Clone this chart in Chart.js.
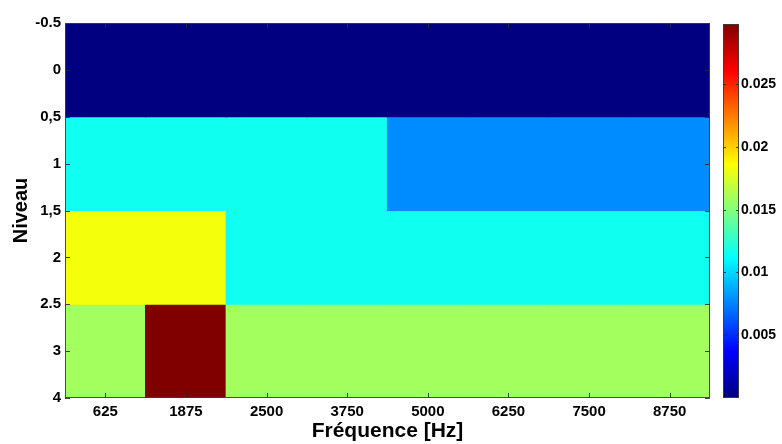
<!DOCTYPE html>
<html>
<head>
<meta charset="utf-8">
<script src="https://cdn.jsdelivr.net/npm/chart.js@4/dist/chart.umd.min.js"></script>
<style>
  html, body { margin: 0; padding: 0; background: #fff; }
  #wrap { position: relative; width: 782px; height: 444px; }
  #heat { position: absolute; left: 0; top: 0; }
  #bar { position: absolute; left: 700px; top: 0; }
</style>
</head>
<body>
<div id="wrap">
  <canvas id="heat" width="782" height="444"></canvas>
  <canvas id="bar" width="82" height="444"></canvas>
</div>
<script>
// Frequency bins (x) and level rows (y)
const frequencyLabels = ['625', '1875', '2500', '3750', '5000', '6250', '7500', '8750'];
const levels = [0, 1, 2, 3];
const levelTickLabels = ['-0.5', '0', '0,5', '1', '1,5', '2', '2.5', '3', '4'];

// Cell values, one array per level
const level0Values = [0, 0, 0, 0, 0, 0, 0, 0];
const level1Values = [0.0116, 0.0116, 0.0116, 0.0116, 0.0078, 0.0078, 0.0078, 0.0078];
const level2Values = [0.0183, 0.0183, 0.0116, 0.0116, 0.0116, 0.0116, 0.0116, 0.0116];
const level3Values = [0.0159, 0.0298, 0.0159, 0.0159, 0.0159, 0.0159, 0.0159, 0.0159];

// Colorbar ticks
const colorbarTicks = [0.005, 0.01, 0.015, 0.02, 0.025];
const colorbarTickLabels = ['0.005', '0.01', '0.015', '0.02', '0.025'];

const levelValues = [level0Values, level1Values, level2Values, level3Values];
const allValues = levelValues.flat();
const cMin = Math.min(...allValues);
const cMax = Math.max(...allValues);

const FONT = "'Liberation Sans', Arial, sans-serif";
Chart.defaults.font.family = FONT;
Chart.defaults.color = '#000';

// MATLAB-style jet colormap
function jet(t) {
  const c = v => Math.round(255 * Math.max(0, Math.min(1, v)));
  return 'rgb(' + c(1.5 - Math.abs(4 * t - 3)) + ',' + c(1.5 - Math.abs(4 * t - 2)) + ',' + c(1.5 - Math.abs(4 * t - 1)) + ')';
}
function valueColor(v) {
  return jet((v - cMin) / (cMax - cMin));
}

// Box and inward tick marks around the plot area
const boxTicks = {
  id: 'boxTicks',
  afterDatasetsDraw(chart, args, opts) {
    const { ctx, chartArea: a } = chart;
    const len = opts.len || 5;
    ctx.save();
    ctx.strokeStyle = 'rgba(40,40,40,0.85)';
    ctx.lineWidth = 1;
    ctx.beginPath();
    const xs = chart.scales.x;
    if (xs && xs.options.display !== false) {
      xs.ticks.forEach((t, i) => {
        const px = Math.round(xs.getPixelForTick(i)) + 0.5;
        ctx.moveTo(px, a.bottom); ctx.lineTo(px, a.bottom - len);
        ctx.moveTo(px, a.top); ctx.lineTo(px, a.top + len);
      });
    }
    const ys = chart.scales.y;
    ys.ticks.forEach(t => {
      const py = Math.round(ys.getPixelForValue(t.value)) + 0.5;
      ctx.moveTo(a.left, py); ctx.lineTo(a.left + len, py);
      ctx.moveTo(a.right, py); ctx.lineTo(a.right - len, py);
    });
    ctx.stroke();
    ctx.strokeStyle = 'rgba(60,60,60,0.9)';
    ctx.strokeRect(Math.round(a.left) + 0.5, Math.round(a.top) + 0.5,
      Math.round(a.right - a.left) - 1, Math.round(a.bottom - a.top) - 1);
    ctx.restore();
  }
};

// Heatmap: each level is a floating bar dataset spanning its row
new Chart(document.getElementById('heat'), {
  type: 'bar',
  data: {
    labels: frequencyLabels,
    datasets: levels.map((lv, r) => ({
      label: 'Niveau ' + lv,
      data: levelValues[r].map(() => [lv - 0.5, lv + 0.5]),
      backgroundColor: levelValues[r].map(valueColor),
      borderWidth: 0,
      borderSkipped: false,
      inflateAmount: 0.6,
      barPercentage: 1,
      categoryPercentage: 1,
      grouped: false
    }))
  },
  options: {
    responsive: false,
    animation: false,
    events: [],
    layout: { padding: { top: 23, right: 72, left: 0, bottom: 0 } },
    plugins: { legend: { display: false }, tooltip: { enabled: false }, boxTicks: { len: 5 } },
    scales: {
      x: {
        grid: { display: false, drawTicks: false },
        border: { display: false },
        ticks: { font: { size: 15, weight: 'bold' }, padding: 5, maxRotation: 0, autoSkip: false },
        title: { display: true, text: 'Fréquence [Hz]', font: { size: 21, weight: 'bold' }, padding: { top: 0, bottom: 0 } },
        afterFit: s => { s.height = 46; }
      },
      y: {
        min: -0.5,
        max: 3.5,
        reverse: true,
        grid: { display: false, drawTicks: false },
        border: { display: false },
        afterBuildTicks: s => { s.ticks = levelTickLabels.map((_, i) => ({ value: -0.5 + 0.5 * i })); },
        ticks: {
          font: { size: 15, weight: 'bold' },
          padding: 4,
          autoSkip: false,
          callback: (v, i) => levelTickLabels[i]
        },
        title: { display: true, text: 'Niveau', font: { size: 20, weight: 'bold' }, padding: { top: 9, bottom: 0 } },
        afterFit: s => { s.width = 65; }
      }
    }
  },
  plugins: [boxTicks]
});

// Colorbar: one floating bar from cMin to cMax filled with the colormap
new Chart(document.getElementById('bar'), {
  type: 'bar',
  data: {
    labels: [''],
    datasets: [{
      data: [[cMin, cMax]],
      backgroundColor: ctx => {
        const area = ctx.chart.chartArea;
        if (!area) return valueColor(cMin);
        const g = ctx.chart.ctx.createLinearGradient(0, area.bottom, 0, area.top);
        for (let i = 0; i <= 64; i++) g.addColorStop(i / 64, jet(i / 64));
        return g;
      },
      borderWidth: 0,
      borderSkipped: false,
      barPercentage: 1,
      categoryPercentage: 1
    }]
  },
  options: {
    responsive: false,
    animation: false,
    events: [],
    layout: { padding: { top: 24, bottom: 46, left: 23, right: 0 } },
    plugins: { legend: { display: false }, tooltip: { enabled: false }, boxTicks: { len: 3 } },
    scales: {
      x: { display: false },
      y: {
        position: 'right',
        min: cMin,
        max: cMax,
        grid: { display: false, drawTicks: false },
        border: { display: false },
        afterBuildTicks: s => { s.ticks = colorbarTicks.map(v => ({ value: v })); },
        ticks: {
          font: { size: 14, weight: 'bold' },
          padding: 2,
          autoSkip: false,
          callback: (v, i) => colorbarTickLabels[i]
        },
        afterFit: s => { s.width = 43; }
      }
    }
  },
  plugins: [boxTicks]
});
</script>
</body>
</html>
